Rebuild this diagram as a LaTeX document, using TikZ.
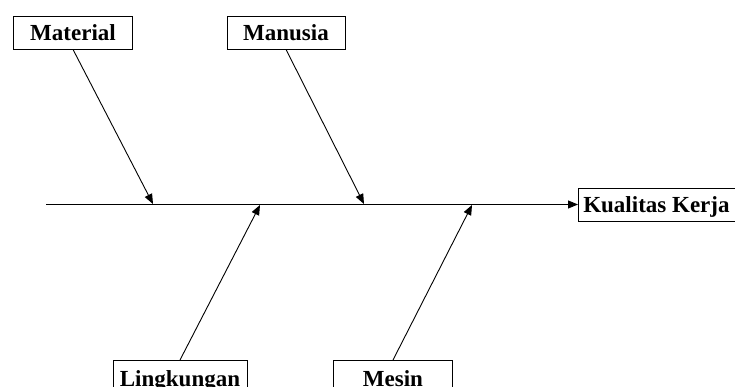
\documentclass[tikz,border=0pt]{standalone}
\usepackage{fontspec}
\setmainfont{Liberation Serif}
\usetikzlibrary{arrows.meta}
\begin{document}
\begin{tikzpicture}[x=1pt,y=-1pt,
  cause/.style={draw, line width=0.9pt, inner sep=0pt, minimum height=33pt,
    font=\fontsize{23}{26}\selectfont\bfseries, text depth=0pt},
  bone/.style={line width=0.9pt, -{Triangle[length=10pt,width=8pt]}}]
\useasboundingbox (0,0) rectangle (735,387);
\clip (0,0) rectangle (735,387);
\node[cause, minimum width=119pt] (mat) at (73,32.5) {Material};
\node[cause, minimum width=118pt] (man) at (286,32.5) {Manusia};
\node[cause, minimum width=134pt, anchor=north] (lin) at (180,360) {\raisebox{-3pt}{Lingkungan}};
\node[cause, minimum width=119pt, anchor=north] (mes) at (393,360) {\raisebox{-3pt}{Mesin}};
\node[cause, minimum width=162pt, anchor=west] (kk) at (578,204.5) {\hspace*{-6pt}Kualitas Kerja};
\coordinate (s0) at (46,204.5);
\coordinate (p1) at (153,204);
\coordinate (p2) at (364,204);
\coordinate (p3) at (260,205);
\coordinate (p4) at (472,205);
\draw[bone] (s0) -- (kk.west);
\draw[bone] (mat.south) -- (p1);
\draw[bone] (man.south) -- (p2);
\draw[bone] (lin.north) -- (p3);
\draw[bone] (mes.north) -- (p4);
\end{tikzpicture}
\end{document}
